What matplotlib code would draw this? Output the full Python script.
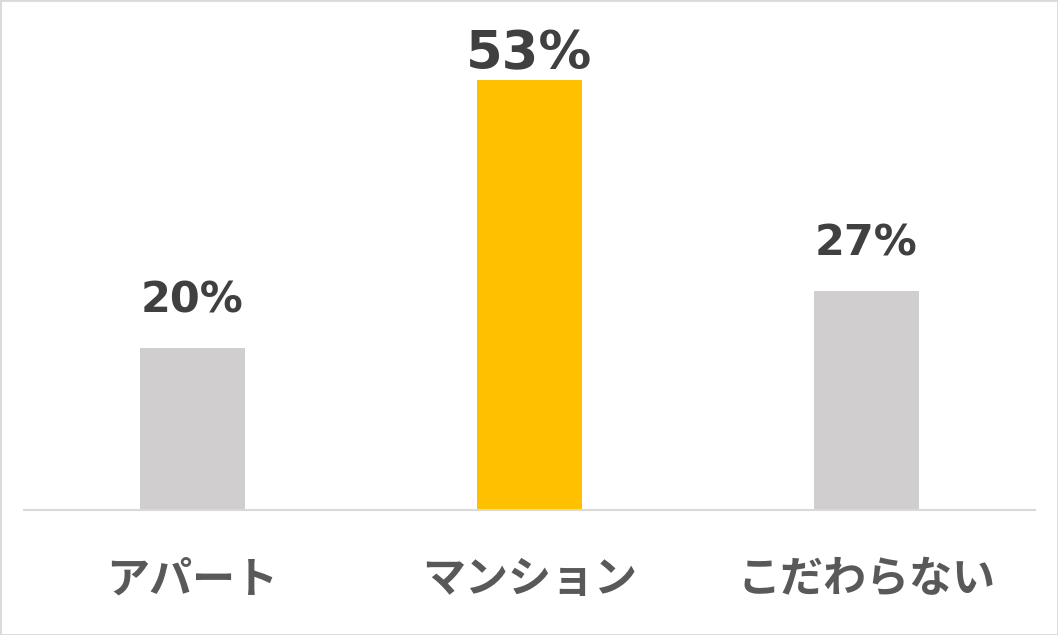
import matplotlib.pyplot as plt
from matplotlib.patches import Rectangle

categories = ['アパート', 'マンション', 'こだわらない']
values = [20, 53, 27]
colors = ['#d0cece', '#ffc000', '#d0cece']

plt.rcParams['font.family'] = ['DejaVu Sans', 'Noto Sans CJK JP']

fig = plt.figure(figsize=(10.58, 6.35), dpi=100)
ax = fig.add_axes([24 / 1058, (635 - 510) / 635, 1011 / 1058, 490 / 635])

x = range(len(categories))
bars = ax.bar(x, values, width=0.312, color=colors, zorder=2)

ax.set_xlim(-0.5, 2.5)
ax.set_ylim(0, 60.4)
for s in ['top', 'right', 'left']:
    ax.spines[s].set_visible(False)
ax.spines['bottom'].set_color('#d9d9d9')
ax.spines['bottom'].set_linewidth(1.5)
ax.set_yticks([])
ax.set_xticks(list(x))
ax.set_xticklabels(categories, fontsize=31, fontweight='bold', color='#595959',
                   family=['Noto Sans CJK JP'])
ax.tick_params(axis='x', length=0, pad=34)

for i, v in enumerate(values):
    big = v == max(values)
    ax.annotate(f'{v}%', (i, v), xytext=(0, 0 if big else 19), textcoords='offset points',
                ha='center', va='bottom', fontsize=38 if big else 31, fontweight='bold',
                color='#404040')

fig.patches.append(Rectangle((0, 0), 1, 1, transform=fig.transFigure, fill=False,
                             edgecolor='#d9d9d9', linewidth=2))

fig.savefig('out.png', dpi=100)
